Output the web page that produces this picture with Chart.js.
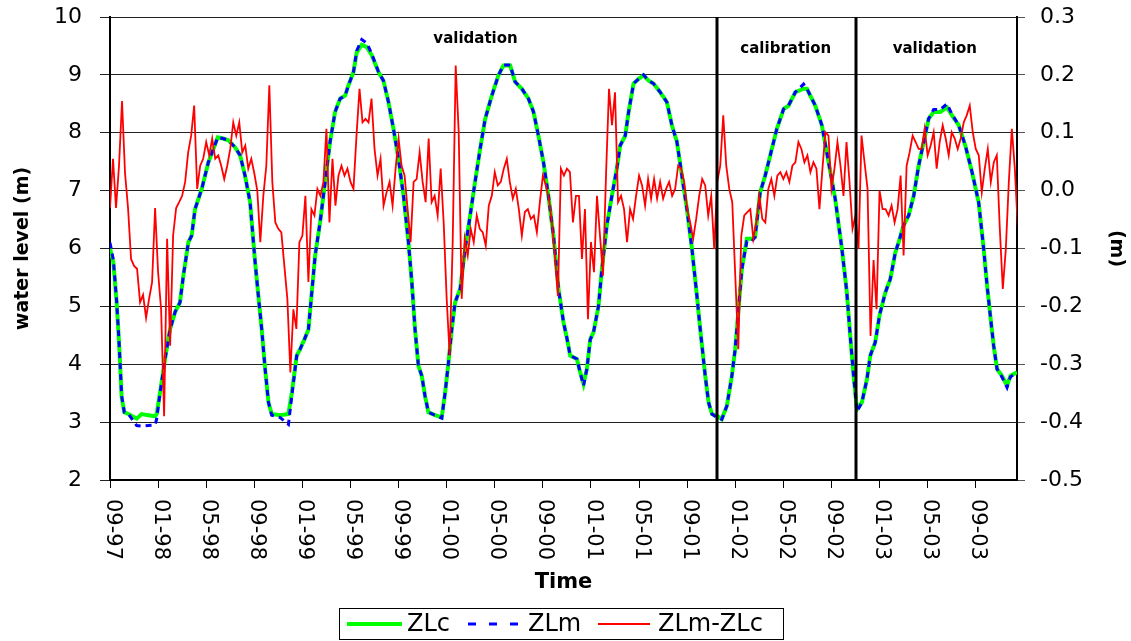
<!DOCTYPE html>
<html lang="en">
<head>
<meta charset="UTF-8">
<title>Water level ZLc / ZLm</title>
<script src="https://cdn.jsdelivr.net/npm/chart.js"></script>
<style>
  html, body { margin: 0; padding: 0; background: #fff; }
  #wrap { width: 1131px; height: 641px; position: relative; }
</style>
</head>
<body>
<div id="wrap"><canvas id="levelChart"></canvas></div>
<script>
// time axis = months counted from 09-1997
const tickMonths = [0, 4, 8, 12, 16, 20, 24, 28, 32, 36, 40, 44, 48, 52, 56, 60, 64, 68, 72];
const tickLabels = ['09-97', '01-98', '05-98', '09-98', '01-99', '05-99', '09-99', '01-00', '05-00', '09-00',
                    '01-01', '05-01', '09-01', '01-02', '05-02', '09-02', '01-03', '05-03', '09-03'];

// water level samples (m)
const zlMonths = [
  0, 0.28, 0.55, 0.75, 0.97, 1.19, 1.53, 2.22, 2.63, 3.19,
  3.74, 3.88, 4.16, 4.58, 4.99, 5.41, 5.82, 6.1, 6.52, 6.79,
  7.07, 7.63, 8.18, 8.6, 8.96, 9.4, 9.84, 10.4, 10.82, 11.23,
  11.65, 12.07, 12.34, 12.62, 12.9, 13.18, 13.45, 14.15, 14.84, 15.12,
  15.53, 15.81, 16.23, 16.5, 16.78, 17.06, 17.47, 17.89, 18.3, 18.72,
  19.14, 19.55, 19.83, 20.25, 20.52, 20.94, 21.36, 21.77, 22.33, 22.74,
  23.16, 23.57, 23.99, 24.41, 24.82, 25.1, 25.37, 25.65, 25.93, 26.2,
  26.48, 27.04, 27.59, 27.87, 28.15, 28.42, 28.7, 29.12, 29.53, 29.95,
  30.36, 30.78, 31.2, 31.75, 32.3, 32.72, 33.28, 33.69, 34.25, 34.8,
  35.22, 35.63, 36.05, 36.46, 36.88, 37.3, 37.72, 38.0, 38.27, 38.83,
  39.1, 39.38, 39.66, 39.94, 40.21, 40.63, 40.91, 41.32, 41.74, 42.15,
  42.43, 42.85, 43.13, 43.54, 43.96, 44.37, 44.79, 45.2, 45.76, 46.31,
  46.73, 47.15, 47.56, 47.98, 48.4, 48.81, 49.09, 49.5, 49.78, 50.06,
  50.47, 50.88, 51.3, 51.72, 51.99, 52.27, 52.55, 52.96, 53.38, 53.65,
  54.07, 54.49, 54.91, 55.46, 56.02, 56.43, 56.99, 57.68, 57.96, 58.65,
  59.2, 59.76, 60.31, 60.87, 61.28, 61.56, 61.84, 62.12, 62.53, 62.95,
  63.23, 63.64, 64.0, 64.48, 64.89, 65.31, 65.59, 66.0, 66.42, 66.84,
  67.25, 67.67, 68.08, 68.5, 69.05, 69.61, 70.02, 70.58, 71.13, 71.69,
  72.24, 72.66, 72.94, 73.21, 73.49, 73.77, 74.18, 74.6, 74.88, 75.43
];
const zlc = [
  6.0, 5.76, 5.07, 4.38, 3.43, 3.17, 3.14, 3.06, 3.14, 3.12,
  3.1, 3.14, 3.51, 4.09, 4.6, 4.9, 5.07, 5.53, 6.11, 6.22,
  6.68, 7.03, 7.49, 7.72, 7.92, 7.9, 7.87, 7.75, 7.61, 7.26,
  6.8, 5.76, 5.18, 4.6, 3.92, 3.34, 3.14, 3.12, 3.14, 3.51,
  4.15, 4.26, 4.46, 4.6, 5.24, 5.88, 6.45, 7.15, 7.84, 8.36,
  8.59, 8.64, 8.82, 9.05, 9.39, 9.52, 9.48, 9.34, 9.05, 8.9,
  8.53, 8.07, 7.55, 6.91, 6.11, 5.42, 4.6, 3.97, 3.8, 3.45,
  3.17, 3.12, 3.08, 3.51, 4.03, 4.6, 5.07, 5.3, 5.99, 6.57,
  7.15, 7.72, 8.24, 8.64, 8.99, 9.16, 9.16, 8.88, 8.76, 8.59,
  8.36, 7.95, 7.49, 6.91, 6.22, 5.3, 4.72, 4.45, 4.15, 4.09,
  3.86, 3.66, 3.92, 4.43, 4.55, 5.01, 5.65, 6.4, 6.91, 7.38,
  7.78, 7.95, 8.36, 8.85, 8.93, 8.99, 8.9, 8.85, 8.7, 8.53,
  8.13, 7.84, 7.26, 6.68, 5.99, 5.18, 4.6, 3.8, 3.34, 3.14,
  3.11, 3.05, 3.28, 3.8, 4.26, 4.95, 5.65, 6.17, 6.17, 6.2,
  6.97, 7.26, 7.61, 8.07, 8.41, 8.47, 8.7, 8.76, 8.76, 8.47,
  8.13, 7.49, 6.86, 5.99, 5.24, 4.49, 3.8, 3.22, 3.34, 3.74,
  4.15, 4.38, 4.85, 5.24, 5.47, 5.93, 6.11, 6.4, 6.57, 6.91,
  7.43, 7.84, 8.24, 8.36, 8.36, 8.44, 8.3, 8.13, 7.78, 7.32,
  6.8, 5.99, 5.36, 4.84, 4.32, 3.92, 3.8, 3.63, 3.8, 3.86
];
const zlm = [
  6.1, 5.8, 5.1, 4.4, 3.45, 3.17, 3.14, 2.94, 2.93, 2.94,
  2.95, 3.05, 3.5, 4.09, 4.6, 4.9, 5.07, 5.53, 6.11, 6.22,
  6.68, 7.03, 7.49, 7.72, 7.92, 7.9, 7.87, 7.75, 7.61, 7.26,
  6.8, 5.76, 5.18, 4.6, 3.92, 3.34, 3.12, 3.08, 2.96, 3.45,
  4.15, 4.26, 4.46, 4.6, 5.24, 5.88, 6.45, 7.15, 7.84, 8.36,
  8.59, 8.64, 8.82, 9.05, 9.42, 9.61, 9.55, 9.36, 9.05, 8.9,
  8.53, 8.07, 7.55, 6.91, 6.11, 5.42, 4.6, 3.97, 3.8, 3.45,
  3.17, 3.12, 3.07, 3.51, 4.03, 4.6, 5.07, 5.3, 5.99, 6.57,
  7.15, 7.72, 8.24, 8.64, 8.99, 9.17, 9.17, 8.88, 8.76, 8.59,
  8.36, 7.95, 7.49, 6.91, 6.22, 5.3, 4.72, 4.45, 4.15, 4.09,
  3.86, 3.63, 3.92, 4.43, 4.55, 5.01, 5.65, 6.4, 6.91, 7.38,
  7.78, 7.95, 8.36, 8.85, 8.93, 9.0, 8.9, 8.85, 8.7, 8.53,
  8.13, 7.84, 7.26, 6.68, 5.99, 5.18, 4.6, 3.8, 3.34, 3.14,
  3.08, 3.05, 3.28, 3.8, 4.26, 4.95, 5.65, 6.12, 6.12, 6.2,
  6.97, 7.26, 7.61, 8.07, 8.41, 8.47, 8.7, 8.84, 8.76, 8.47,
  8.13, 7.49, 6.86, 5.99, 5.24, 4.49, 3.8, 3.18, 3.34, 3.74,
  4.15, 4.38, 4.85, 5.24, 5.47, 5.93, 6.11, 6.4, 6.57, 6.91,
  7.43, 7.84, 8.24, 8.4, 8.4, 8.5, 8.32, 8.13, 7.78, 7.32,
  6.8, 5.99, 5.36, 4.84, 4.32, 3.92, 3.78, 3.6, 3.78, 3.86
];

// ZLm-ZLc (m), one value every quarter month starting at 09-97
const diffStep = 0.25;
const diffValues = [
  -0.03, 0.055, -0.03, 0.043, 0.155, 0.03, -0.03, -0.118, -0.13, -0.135, -0.193, -0.18, -0.22, -0.187, -0.158, -0.03,
  -0.141, -0.205, -0.39, -0.083, -0.268, -0.077, -0.03, -0.02, -0.009, 0.015, 0.066, 0.095, 0.147, 0.003, 0.043, 0.055,
  0.084, 0.061, 0.09, 0.055, 0.061, 0.043, 0.02, 0.043, 0.072, 0.118, 0.095, 0.118, 0.066, 0.078, 0.038, 0.055,
  0.03, 0.0, -0.089, -0.009, 0.043, 0.182, 0.015, -0.055, -0.066, -0.072, -0.13, -0.187, -0.314, -0.205, -0.239, -0.089,
  -0.078, -0.009, -0.158, -0.032, -0.043, 0.003, -0.009, 0.015, 0.107, -0.055, 0.055, -0.026, 0.026, 0.043, 0.026, 0.038,
  0.015, 0.003, 0.095, 0.176, 0.118, 0.124, 0.118, 0.159, 0.072, 0.026, 0.055, -0.026, -0.003, 0.015, -0.026, 0.038,
  0.09, 0.043, 0.026, -0.032, -0.089, 0.015, 0.02, 0.066, 0.015, -0.02, 0.09, -0.02, -0.009, -0.043, 0.038, -0.055,
  -0.187, -0.285, -0.089, 0.216, 0.101, -0.187, -0.083, -0.112, -0.066, -0.089, -0.043, -0.066, -0.072, -0.095, -0.026, -0.009,
  0.032, 0.009, 0.015, 0.038, 0.055, 0.015, -0.014, 0.003, -0.032, -0.078, -0.037, -0.032, -0.049, -0.043, -0.072, -0.02,
  0.026, 0.009, -0.014, -0.055, -0.112, -0.182, 0.038, 0.026, 0.038, 0.032, -0.055, -0.009, -0.009, -0.118, -0.032, -0.222,
  -0.089, -0.141, -0.009, -0.078, -0.147, 0.026, 0.176, 0.113, 0.17, -0.02, -0.009, -0.032, -0.089, -0.032, -0.049, -0.009,
  0.026, 0.009, -0.026, 0.02, -0.014, 0.02, -0.014, 0.015, -0.014, 0.003, 0.015, -0.009, 0.003, 0.043, 0.038, 0.015,
  -0.032, -0.055, -0.083, -0.049, -0.009, 0.02, 0.009, -0.043, -0.009, -0.101, 0.015, 0.043, 0.13, 0.043, 0.003, -0.02,
  -0.147, -0.274, -0.078, -0.043, -0.037, -0.032, -0.083, -0.055, -0.009, -0.049, -0.055, 0.003, 0.02, -0.009, 0.026, 0.032,
  0.02, 0.032, 0.015, 0.043, 0.049, 0.084, 0.072, 0.049, 0.061, 0.032, 0.049, 0.038, -0.032, 0.038, 0.101, 0.095,
  0.003, 0.038, 0.084, 0.043, -0.009, 0.084, 0.015, -0.066, -0.043, -0.101, 0.095, 0.049, 0.003, -0.251, -0.12, -0.205,
  0.0, -0.032, -0.032, -0.043, -0.026, -0.055, -0.032, 0.026, -0.112, 0.043, 0.066, 0.095, 0.084, 0.072, 0.072, 0.107,
  0.061, 0.078, 0.101, 0.038, 0.084, 0.113, 0.09, 0.061, 0.101, 0.09, 0.072, 0.09, 0.118, 0.13, 0.147, 0.101,
  0.072, 0.061, -0.003, 0.038, 0.072, 0.015, 0.049, 0.061, -0.066, -0.17, -0.101, 0.015, 0.107, 0.038, -0.065
];

// calibration / validation periods
const periodSplits = [50.5, 62];
const periodNames = ['validation', 'calibration', 'validation'];

const FONT = "'DejaVu Sans', sans-serif";

// y axes: keep the plot box where the original has it (tick padding would push it down)
function fixAxisBox(width) {
  return s => {
    s.width = width;
    s.paddingTop = 0;
    s.paddingBottom = 0;
  };
}

// extra drawing: period lines, rotated time labels, axis title, legend box
const extras = {
  id: 'extras',
  afterDatasetsDraw(chart) {
    const { ctx, chartArea } = chart;
    const x = chart.scales.x, y = chart.scales.y;
    ctx.save();
    ctx.strokeStyle = '#000';
    ctx.lineWidth = 3;
    periodSplits.forEach(m => {
      const px = Math.round(x.getPixelForValue(m));
      ctx.beginPath();
      ctx.moveTo(px, chartArea.top);
      ctx.lineTo(px, chartArea.bottom);
      ctx.stroke();
    });
    // label positions (month, level)
    const spots = [[30.4, 9.62], [56.2, 9.45], [68.6, 9.45]];
    ctx.fillStyle = '#000';
    ctx.font = 'bold 15px ' + FONT;
    ctx.textAlign = 'center';
    ctx.textBaseline = 'middle';
    periodNames.forEach((t, i) => {
      ctx.fillText(t, x.getPixelForValue(spots[i][0]), y.getPixelForValue(spots[i][1]));
    });
    ctx.restore();
  },
  afterDraw(chart) {
    const { ctx, chartArea } = chart;
    const x = chart.scales.x;
    ctx.save();
    ctx.fillStyle = '#000';

    // time tick labels, turned clockwise
    ctx.font = '21px ' + FONT;
    ctx.textAlign = 'left';
    ctx.textBaseline = 'middle';
    tickMonths.forEach((m, i) => {
      ctx.save();
      ctx.translate(x.getPixelForValue(m) + 2, chartArea.bottom + 19);
      ctx.rotate(Math.PI / 2);
      ctx.fillText(tickLabels[i], 0, 0);
      ctx.restore();
    });

    ctx.font = 'bold 21px ' + FONT;
    ctx.textAlign = 'center';
    ctx.fillText('Time', (chartArea.left + chartArea.right) / 2, 583);

    // legend
    ctx.lineWidth = 1;
    ctx.strokeStyle = '#000';
    ctx.strokeRect(339.5, 608.5, 444, 31);
    const ly = 624;
    const items = [[347, 402, 407], [468, 520, 528], [598, 650, 658]];
    ctx.font = '24px ' + FONT;
    ctx.textAlign = 'left';
    ctx.textBaseline = 'middle';
    chart.data.datasets.forEach((ds, i) => {
      const [a, b, t] = items[i];
      ctx.save();
      ctx.strokeStyle = ds.borderColor;
      ctx.lineWidth = Math.max(ds.borderWidth, 2);
      ctx.setLineDash(ds.borderDash ? [8, 13] : []);
      ctx.beginPath();
      ctx.moveTo(a, ly);
      ctx.lineTo(b, ly);
      ctx.stroke();
      ctx.restore();
      ctx.fillText(ds.label, t, ly + 1);
    });
    ctx.restore();
  }
};

new Chart(document.getElementById('levelChart'), {
  type: 'line',
  data: {
    datasets: [
      {
        label: 'ZLc',
        data: zlMonths.map((m, i) => ({ x: m, y: zlc[i] })),
        borderColor: '#00ff00',
        borderWidth: 4,
        pointRadius: 0,
        yAxisID: 'y',
        order: 3
      },
      {
        label: 'ZLm',
        data: zlMonths.map((m, i) => ({ x: m, y: zlm[i] })),
        borderColor: '#0000ff',
        borderWidth: 3,
        borderDash: [6, 5],
        pointRadius: 0,
        yAxisID: 'y',
        order: 2
      },
      {
        label: 'ZLm-ZLc',
        data: diffValues.map((v, i) => ({ x: i * diffStep, y: v })),
        borderColor: '#ff0000',
        borderWidth: 1.8,
        pointRadius: 0,
        yAxisID: 'y1',
        order: 1
      }
    ]
  },
  options: {
    responsive: true,
    maintainAspectRatio: false,
    animation: false,
    layout: { padding: { top: 17, left: 0, right: 0, bottom: 0 } },
    plugins: { legend: { display: false }, tooltip: { enabled: false } },
    scales: {
      x: {
        type: 'linear',
        min: 0,
        max: 75.43,
        ticks: { display: false },
        grid: { drawOnChartArea: false, tickLength: 8, color: '#000' },
        border: { color: '#000', width: 2 },
        afterBuildTicks: s => { s.ticks = tickMonths.map(v => ({ value: v })); },
        afterFit: s => { s.height = 161; }
      },
      y: {
        position: 'left',
        min: 2,
        max: 10,
        ticks: { stepSize: 1, color: '#000', padding: 18, font: { family: FONT, size: 22 } },
        grid: { color: '#222', tickLength: 10 },
        border: { color: '#000', width: 2 },
        title: {
          display: true,
          text: 'water level (m)',
          color: '#000',
          font: { family: FONT, size: 19, weight: 'bold' },
          padding: { top: 12, bottom: 0 }
        },
        afterFit: fixAxisBox(110)
      },
      y1: {
        position: 'right',
        min: -0.5,
        max: 0.3,
        ticks: {
          stepSize: 0.1,
          color: '#000',
          padding: 15,
          font: { family: FONT, size: 22 },
          callback: v => (Math.abs(v) < 1e-9 ? 0 : v).toFixed(1)
        },
        grid: { drawOnChartArea: false, tickLength: 8, color: '#555' },
        border: { color: '#000', width: 2 },
        title: {
          display: true,
          text: '(m)',
          color: '#000',
          font: { family: FONT, size: 19, weight: 'bold' },
          padding: { top: 4, bottom: 0 }
        },
        afterFit: fixAxisBox(114)
      }
    }
  },
  plugins: [extras]
});
</script>
</body>
</html>
